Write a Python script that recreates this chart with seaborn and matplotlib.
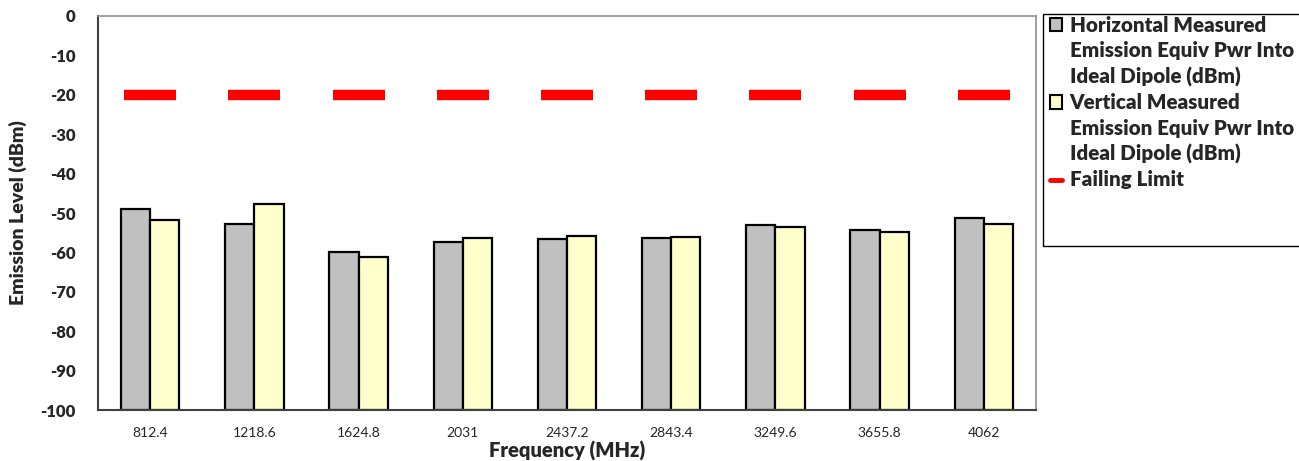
import numpy as np
import pandas as pd
import matplotlib
matplotlib.use("Agg")
import matplotlib.pyplot as plt
from matplotlib.patches import Patch, Rectangle
from matplotlib.lines import Line2D
import seaborn as sns

# data
freqs = ['812.4', '1218.6', '1624.8', '2031', '2437.2', '2843.4', '3249.6', '3655.8', '4062']
horiz = [-49.1, -52.7, -60.0, -57.3, -56.6, -56.3, -53.0, -54.3, -51.3]
vert = [-51.8, -47.8, -61.2, -56.4, -55.8, -56.1, -53.5, -54.7, -52.7]
limit = [-20, -20, -20, -20, -20, -20, -20, -20, -20]
series = ['Horizontal', 'Vertical']
ymin = -100

sns.set_theme(style='white')
plt.rcParams['font.family'] = ['Lato', 'DejaVu Sans']

df = pd.DataFrame({
    'freq': freqs * 2,
    'pol': [series[0]] * len(freqs) + [series[1]] * len(freqs),
    'level': horiz + vert,
})
# Excel-style bars rise from the axis floor (-100)
df['height'] = df['level'] - ymin

fig = plt.figure(figsize=(12.99, 4.61), dpi=100)
ax = fig.add_axes([98 / 1299, 1 - 410 / 461, (1036 - 98) / 1299, (410 - 16) / 461])

sns.barplot(data=df, x='freq', y='height', hue='pol', order=freqs, hue_order=series,
            palette=['#C0C0C0', '#FFFFCC'], saturation=1, width=0.56, errorbar=None,
            edgecolor='black', linewidth=1.6, bottom=ymin, legend=False, ax=ax)

# failing limit drawn as short red dashes
ax.plot(np.arange(len(freqs)), limit, ls='none', marker='_', ms=38, mew=7.5,
        color='#FF0000', zorder=5)

ax.set_xlim(-0.5, len(freqs) - 0.5)
ax.set_ylim(ymin, 0)
ax.set_yticks(np.arange(-100, 1, 10))
ax.set_yticklabels([str(v) for v in range(-100, 1, 10)], fontweight='heavy', fontsize=12)
ax.set_xticks(np.arange(len(freqs)))
ax.set_xticklabels(freqs, fontsize=10)
ax.set_xticks(np.arange(len(freqs) + 1) - 0.5, minor=True)
ax.tick_params(axis='x', which='major', length=0, pad=12)
ax.tick_params(axis='x', which='minor', length=5, width=1, color='#404040', direction='out')
ax.tick_params(axis='y', length=5, width=1, color='#404040', direction='out', pad=11)
ax.tick_params(axis='y', which='minor', left=False)

ax.set_xlabel('Frequency (MHz)', fontweight='heavy', fontsize=14.5, labelpad=2)
ax.set_ylabel('Emission Level (dBm)', fontweight='heavy', fontsize=14)
ax.yaxis.set_label_coords(-0.0757, 0.5)

for side in ['left', 'bottom']:
    ax.spines[side].set_color('#404040')
    ax.spines[side].set_linewidth(1.5)
for side in ['top', 'right']:
    ax.spines[side].set_color('#909090')
    ax.spines[side].set_linewidth(1.2)

# legend: frame drawn separately, entries split so handles sit on the first line
fig.patches.append(Rectangle((1043 / 1299, 1 - 246 / 461), 300 / 1299, (246 - 14) / 461,
                             transform=fig.transFigure, fill=False, edgecolor='black',
                             linewidth=1.0))
blank = Line2D([], [], color='none')
handles = [Patch(facecolor='#C0C0C0', edgecolor='black', linewidth=1.5), blank, blank,
           Patch(facecolor='#FFFFCC', edgecolor='black', linewidth=1.5), blank, blank,
           Line2D([], [], color='#FF0000', lw=3.5)]
labels = ['Horizontal Measured', 'Emission Equiv Pwr Into', 'Ideal Dipole (dBm)',
          'Vertical Measured', 'Emission Equiv Pwr Into', 'Ideal Dipole (dBm)',
          'Failing Limit']
fig.legend(handles, labels, loc='upper left', bbox_to_anchor=(1047 / 1299, 1 - 13 / 461),
           frameon=False, prop={'weight': 'heavy', 'size': 14.8}, handlelength=0.6,
           handleheight=0.6, handletextpad=0.35, labelspacing=0.31, borderpad=0.15,
           borderaxespad=0)

fig.savefig('out.png', dpi=100)
